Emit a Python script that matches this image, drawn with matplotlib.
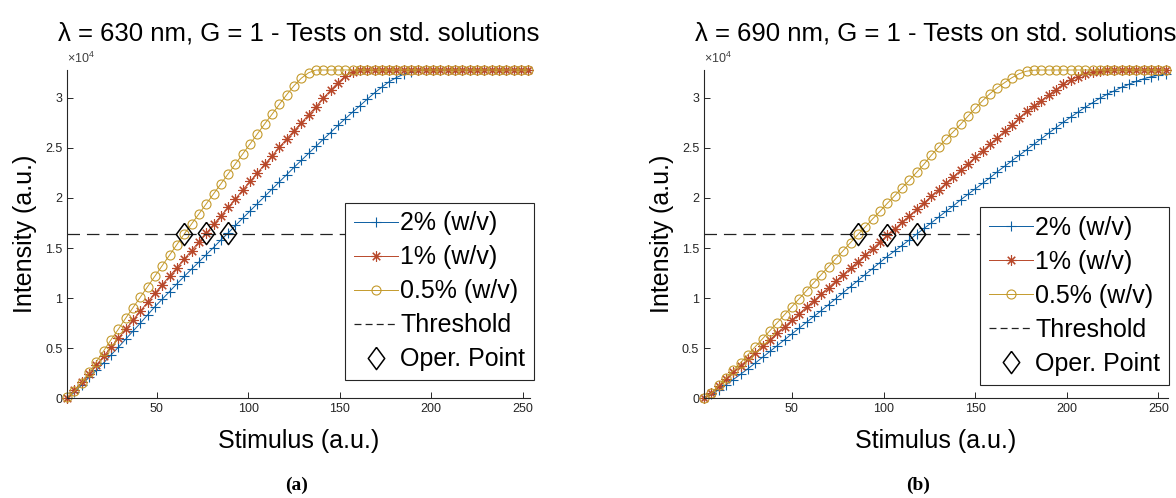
import matplotlib.pyplot as plt
from matplotlib.lines import Line2D

plt.rcParams['font.family'] = ['Liberation Sans', 'DejaVu Sans']
plt.rcParams['mathtext.fontset'] = 'custom'
plt.rcParams['mathtext.rm'] = 'Liberation Sans'
plt.rcParams['lines.scale_dashes'] = False

# stimulus levels (a.u.)
stim_a = list(range(1, 254, 4))
stim_b = list(range(2, 255, 4))

threshold = 16384

# (a) lambda = 630 nm
a_2pct = [0, 600, 1350, 2100, 2800, 3550, 4330, 5100,
          5900, 6700, 7500, 8330, 9150, 9900, 10660, 11430,
          12170, 12900, 13600, 14330, 15050, 15800, 16500, 17250,
          17980, 18700, 19430, 20150, 20880, 21600, 22320, 23050,
          23750, 24450, 25150, 25850, 26530, 27230, 27900, 28570,
          29200, 29850, 30480, 31060, 31600, 32020, 32350, 32600,
          32767, 32767, 32767, 32767, 32767, 32767, 32767, 32767,
          32767, 32767, 32767, 32767, 32767, 32767, 32767, 32767]
a_1pct = [50, 800, 1600, 2450, 3330, 4200, 5100, 6000,
          6900, 7800, 8700, 9600, 10500, 11350, 12200, 13050,
          13900, 14750, 15600, 16450, 17350, 18200, 19050, 19900,
          20800, 21650, 22500, 23350, 24200, 25050, 25900, 26700,
          27500, 28300, 29100, 29950, 30750, 31500, 32150, 32550,
          32767, 32767, 32767, 32767, 32767, 32767, 32767, 32767,
          32767, 32767, 32767, 32767, 32767, 32767, 32767, 32767,
          32767, 32767, 32767, 32767, 32767, 32767, 32767, 32767]
a_05pct = [100, 700, 1550, 2600, 3650, 4750, 5850, 6900,
           8000, 9050, 10100, 11150, 12200, 13250, 14300, 15350,
           16400, 17400, 18400, 19400, 20400, 21400, 22400, 23400,
           24400, 25400, 26400, 27400, 28350, 29350, 30300, 31200,
           31950, 32500, 32767, 32767, 32767, 32767, 32767, 32767,
           32767, 32767, 32767, 32767, 32767, 32767, 32767, 32767,
           32767, 32767, 32767, 32767, 32767, 32767, 32767, 32767,
           32767, 32767, 32767, 32767, 32767, 32767, 32767, 32767]
a_op_x = [89, 77, 65]

# (b) lambda = 690 nm
b_2pct = [0, 380, 850, 1350, 1870, 2400, 2950, 3520,
          4100, 4680, 5260, 5850, 6430, 7010, 7590, 8170,
          8750, 9350, 9950, 10550, 11150, 11750, 12350, 12950,
          13550, 14150, 14700, 15250, 15800, 16380, 16950, 17500,
          18080, 18650, 19200, 19800, 20350, 20900, 21450, 22000,
          22600, 23150, 23700, 24250, 24800, 25350, 25900, 26450,
          27000, 27550, 28050, 28550, 29050, 29500, 29950, 30350,
          30700, 31050, 31350, 31650, 31900, 32100, 32250, 32400]
b_1pct = [0, 550, 1200, 1900, 2600, 3250, 3900, 4550,
          5200, 5850, 6500, 7150, 7800, 8450, 9100, 9750,
          10400, 11050, 11700, 12350, 13000, 13650, 14300, 14950,
          15600, 16250, 16900, 17550, 18200, 18850, 19500, 20150,
          20800, 21450, 22100, 22750, 23400, 24050, 24700, 25350,
          26000, 26650, 27300, 27950, 28650, 29200, 29700, 30250,
          30800, 31350, 31800, 32100, 32400, 32550, 32650, 32720,
          32767, 32767, 32767, 32767, 32767, 32767, 32767, 32767]
b_05pct = [0, 500, 1300, 2050, 2800, 3550, 4350, 5150,
           5950, 6750, 7550, 8350, 9150, 9950, 10750, 11550,
           12350, 13150, 13950, 14750, 15550, 16350, 17100, 17900,
           18650, 19450, 20200, 21000, 21750, 22550, 23350, 24250,
           25050, 25850, 26600, 27350, 28150, 28930, 29700, 30400,
           31000, 31500, 32000, 32400, 32650, 32750, 32767, 32767,
           32767, 32767, 32767, 32767, 32767, 32767, 32767, 32767,
           32767, 32767, 32767, 32767, 32767, 32767, 32767, 32767]
b_op_x = [118, 102, 86]

labels = ['2% (w/v)', '1% (w/v)', '0.5% (w/v)']
colors = ['#0c5fa3', '#b8482a', '#c49a2c']
markers = ['+', (8, 2, 0), 'o']
msizes = [7, 7.5, 6.5]

# MATLAB-like diamond (a bit taller than wide)
diamond = [(0, 1), (0.74, 0), (0, -1), (-0.74, 0), (0, 1)]

xticks = [50, 100, 150, 200, 250]
yticks = [0, 5000, 10000, 15000, 20000, 25000, 30000]
yticklabels = ['0', '0.5', '1', '1.5', '2', '2.5', '3']

fig = plt.figure(figsize=(11.76, 4.98), dpi=100)
ax_a = fig.add_axes([0.0571, 0.2002, 0.3936, 0.6592])
ax_b = fig.add_axes([0.5986, 0.2002, 0.3943, 0.6592])


def draw(ax, stim, series, op_x, xmax, title, anchor):
    handles = []
    for vals, lab, col, mk, ms in zip(series, labels, colors, markers, msizes):
        ln, = ax.plot(stim, vals, color=col, marker=mk, markersize=ms,
                      markerfacecolor='none', markeredgewidth=0.8,
                      linewidth=0.7, label=lab, clip_on=False)
        handles.append(ln)
    ax.axhline(threshold, color='#222222', linewidth=0.9, dashes=(9, 5))
    # legend shows shorter dashes, as in the original figure
    handles.append(Line2D([], [], color='#222222', linewidth=0.9,
                          dashes=(5, 3), label='Threshold'))
    # operating points: data point closest to threshold
    op_y = [vals[stim.index(x)] for vals, x in zip(series, op_x)]
    op, = ax.plot(op_x, op_y, linestyle='none', marker=diamond,
                  markersize=16, markerfacecolor='none',
                  markeredgecolor='black', markeredgewidth=1.1,
                  label='Oper. Point', clip_on=False)
    handles.append(op)

    ax.set_xlim(stim[0], xmax)
    ax.set_ylim(0, 32767)
    ax.set_xticks(xticks)
    ax.set_yticks(yticks)
    ax.set_yticklabels(yticklabels)
    ax.tick_params(direction='in', length=4, width=0.7, labelsize=9,
                   colors='#262626', top=False, right=False)
    for s in ['top', 'right']:
        ax.spines[s].set_visible(False)
    for s in ['left', 'bottom']:
        ax.spines[s].set_color('#262626')
        ax.spines[s].set_linewidth(0.8)

    ax.text(0.0, 1.012, r'$\times10^{4}$', transform=ax.transAxes,
            fontsize=9, color='#404040', ha='left', va='bottom')
    ax.text(0.5, 1.0914, title, transform=ax.transAxes, fontsize=18.5,
            ha='center', va='baseline')
    ax.set_xlabel('Stimulus (a.u.)', fontsize=18)
    ax.xaxis.set_label_coords(0.5, -0.093)
    ax.set_ylabel('Intensity (a.u.)', fontsize=18)
    ax.yaxis.set_label_coords(-0.065, 0.5)

    leg = ax.legend(handles=handles, loc='lower right', bbox_to_anchor=anchor,
                    fontsize=18, fancybox=False, framealpha=1,
                    edgecolor='#262626', borderpad=0.35, labelspacing=0.4,
                    handlelength=1.75, handletextpad=0.1, borderaxespad=0)
    leg.get_frame().set_linewidth(0.8)


draw(ax_a, stim_a, [a_2pct, a_1pct, a_05pct], a_op_x, 254,
     'λ = 630 nm, G = 1 - Tests on std. solutions', (1.0086, 0.0557))
draw(ax_b, stim_b, [b_2pct, b_1pct, b_05pct], b_op_x, 255,
     'λ = 690 nm, G = 1 - Tests on std. solutions', (1.003, 0.041))

fig.text(0.2526, 0.026, '(a)', family=['Liberation Serif', 'DejaVu Serif'],
         fontweight='bold', fontsize=14, ha='center', va='center')
fig.text(0.7806, 0.026, '(b)', family=['Liberation Serif', 'DejaVu Serif'],
         fontweight='bold', fontsize=14, ha='center', va='center')

fig.savefig('out.png', dpi=100)
